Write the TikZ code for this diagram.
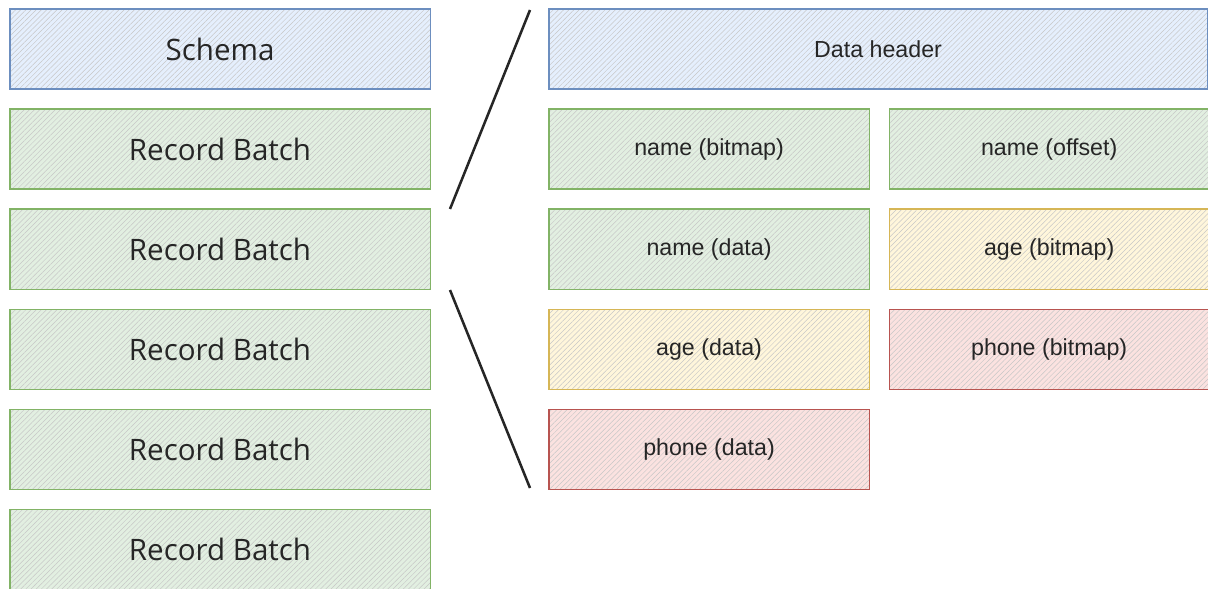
\documentclass[tikz,border=0pt]{standalone}
\usepackage{fontspec}
\setmainfont{Liberation Sans}
\newfontfamily\handfont{Open Sans}
\usetikzlibrary{positioning, patterns.meta}

\definecolor{blueFill}{HTML}{DAE8FC}
\definecolor{blueLine}{HTML}{6C8EBF}
\definecolor{greenFill}{HTML}{D5E8D4}
\definecolor{greenLine}{HTML}{82B366}
\definecolor{yellowFill}{HTML}{FFF2CC}
\definecolor{yellowLine}{HTML}{D6B656}
\definecolor{redFill}{HTML}{F8CECC}
\definecolor{redLine}{HTML}{B85450}

\begin{document}
\begin{tikzpicture}[
    x=0.025cm, y=-0.025cm,
    hatch/.style={rectangle, line width=0.8pt, inner sep=0pt, outer sep=0pt, anchor=north west,
        pattern={Lines[angle=45, distance=2.6pt, line width=0.35pt]}, pattern color=black!22},
    big/.style={hatch, minimum width=10.5cm, minimum height=2cm,
        font=\handfont\fontsize{21}{25}\selectfont, text=black!85},
    part/.style={hatch, minimum width=8cm, minimum height=2cm,
        font=\fontsize{16.5}{20}\selectfont, text=black!85},
    wide/.style={part, minimum width=16.45cm},
    blu/.style={draw=blueLine, preaction={fill=blueFill!70!white}},
    grn/.style={draw=greenLine, preaction={fill=greenFill!70!white}},
    ylw/.style={draw=yellowLine, preaction={fill=yellowFill!70!white}},
    rd/.style={draw=redLine, preaction={fill=redFill!60!white}},
    zoomline/.style={line width=1.8pt, black!85}
]
\useasboundingbox (0,0) rectangle (1208,589);

% file layout
\node[big, blu] (schema) at (10,9) {Schema};
\node[big, grn, below=0.5cm of schema] (rb1) {Record Batch};
\node[big, grn, below=0.5cm of rb1] (rb2) {Record Batch};
\node[big, grn, below=0.5cm of rb2] (rb3) {Record Batch};
\node[big, grn, below=0.5cm of rb3] (rb4) {Record Batch};
\node[big, grn, below=0.5cm of rb4] (rb5) {Record Batch};

% one record batch
\node[wide, blu] (header) at (549,9) {Data header};
\node[part, grn, below right=0.5cm and 0cm of header.south west] (namebmp) {name (bitmap)};
\node[part, grn, right=0.5cm of namebmp] (nameoff) {name (offset)};
\node[part, grn, below=0.5cm of namebmp] (namedata) {name (data)};
\node[part, ylw, right=0.5cm of namedata] (agebmp) {age (bitmap)};
\node[part, ylw, below=0.5cm of namedata] (agedata) {age (data)};
\node[part, rd, right=0.5cm of agedata] (phonebmp) {phone (bitmap)};
\node[part, rd, below=0.5cm of agedata] (phonedata) {phone (data)};

% zoom lines
\coordinate (ztop) at (530,10);
\coordinate (zmidA) at (450,209);
\coordinate (zmidB) at (450,290);
\coordinate (zbot) at (530,488);
\draw[zoomline] (ztop) -- (zmidA);
\draw[zoomline] (zmidB) -- (zbot);

\end{tikzpicture}
\end{document}
